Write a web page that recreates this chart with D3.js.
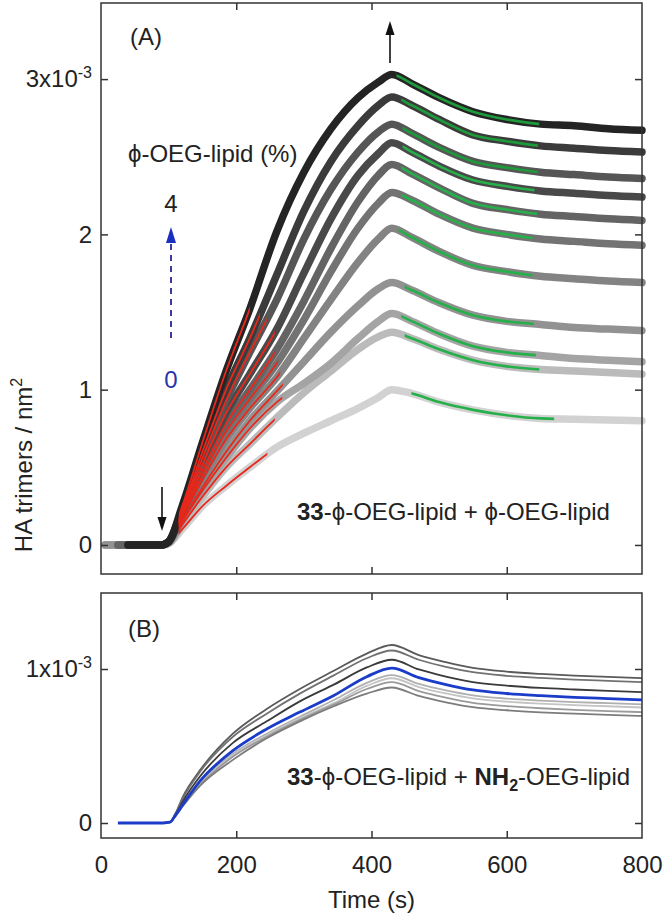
<!DOCTYPE html>
<html><head><meta charset="utf-8">
<script src="https://cdn.jsdelivr.net/npm/d3@7"></script>
<style>body{margin:0;background:#fff}</style>
</head><body>
<script>
// ---------- DATA (values in units of 1e-3 HA trimers / nm^2) ----------
const xTicks = [0, 200, 400, 600, 800];
const yTicksA = [0, 1, 2, 3];
const yTicksB = [0, 1];

// Panel A: 11 curves, 4% (top) ... 0% (bottom)
const startA = [40, 40, 40, 40, 25, 25, 25, 6, 6, 6, 6];
const tBaseA = [50, 90];
const tRiseA = [100, 120, 150, 185, 220, 260, 300, 340, 380, 410, 430];
const riseA = [
  [0.02, 0.25, 0.66, 1.12, 1.52, 2.02, 2.40, 2.68, 2.88, 2.98, 3.03],
  [0.02, 0.23, 0.60, 1.00, 1.33, 1.74, 2.15, 2.47, 2.70, 2.83, 2.885],
  [0.02, 0.22, 0.56, 0.93, 1.24, 1.58, 1.97, 2.29, 2.53, 2.66, 2.71],
  [0.02, 0.21, 0.52, 0.85, 1.10, 1.39, 1.75, 2.10, 2.38, 2.52, 2.59],
  [0.02, 0.20, 0.48, 0.78, 1.00, 1.26, 1.57, 1.91, 2.21, 2.38, 2.45],
  [0.02, 0.19, 0.45, 0.73, 0.94, 1.17, 1.45, 1.76, 2.04, 2.20, 2.27],
  [0.02, 0.18, 0.42, 0.68, 0.88, 1.08, 1.33, 1.58, 1.82, 1.97, 2.04],
  [0.02, 0.16, 0.37, 0.60, 0.80, 0.99, 1.18, 1.37, 1.54, 1.65, 1.69],
  [0.01, 0.15, 0.35, 0.56, 0.75, 0.92, 1.04, 1.17, 1.33, 1.44, 1.49],
  [0.01, 0.13, 0.31, 0.50, 0.65, 0.82, 0.98, 1.12, 1.26, 1.34, 1.37],
  [0.01, 0.10, 0.25, 0.38, 0.50, 0.63, 0.72, 0.80, 0.88, 0.95, 1.00]
];
const tDecayA = [460, 500, 550, 600, 650, 700, 750, 800];
const decayA = [
  [2.97, 2.88, 2.79, 2.74, 2.71, 2.70, 2.68, 2.67],
  [2.83, 2.74, 2.64, 2.60, 2.57, 2.555, 2.54, 2.53],
  [2.65, 2.56, 2.47, 2.43, 2.40, 2.385, 2.37, 2.36],
  [2.53, 2.44, 2.35, 2.31, 2.28, 2.265, 2.25, 2.24],
  [2.39, 2.30, 2.20, 2.16, 2.13, 2.115, 2.10, 2.09],
  [2.22, 2.13, 2.04, 2.00, 1.97, 1.955, 1.94, 1.93],
  [1.98, 1.89, 1.80, 1.76, 1.73, 1.715, 1.70, 1.69],
  [1.64, 1.56, 1.48, 1.44, 1.42, 1.40, 1.39, 1.38],
  [1.44, 1.36, 1.28, 1.24, 1.22, 1.20, 1.19, 1.18],
  [1.33, 1.26, 1.19, 1.15, 1.13, 1.12, 1.11, 1.10],
  [0.975, 0.92, 0.87, 0.835, 0.815, 0.81, 0.805, 0.80]
];
const grayA = ['#242424','#3b3b3b','#565656','#494949','#646464','#737373',
               '#838383','#929292','#a4a4a4','#bbbbbb','#d2d2d2'];
// fits
const redStart = [115,115,115,115,115,115,115,115,115,115,115];
const redEnd   = [220,235,245,257,257,262,265,269,268,257,246];
const greenStart = [437,444,446,446,444,444,440,449,444,449,459];
const greenEnd   = [648,646,646,641,645,638,638,640,643,648,670];

// Panel B: 8 curves (7 gray + blue)
const startB = [32, 32, 32, 25, 32, 32, 32, 32];
const tBaseB = [60, 92];
const tRiseB = [102, 110, 121, 146, 195, 245, 294, 345, 393, 430];
const riseB = [
  [0.005, 0.06, 0.17, 0.34, 0.58, 0.74, 0.87, 0.99, 1.10, 1.156],
  [0.005, 0.06, 0.16, 0.33, 0.56, 0.71, 0.84, 0.96, 1.07, 1.12],
  [0.005, 0.05, 0.14, 0.30, 0.52, 0.66, 0.79, 0.90, 1.01, 1.06],
  [0.005, 0.05, 0.12, 0.27, 0.47, 0.61, 0.72, 0.83, 0.95, 1.006],
  [0.005, 0.05, 0.12, 0.26, 0.45, 0.58, 0.69, 0.80, 0.91, 0.96],
  [0.005, 0.045, 0.11, 0.25, 0.44, 0.57, 0.68, 0.78, 0.89, 0.94],
  [0.005, 0.045, 0.11, 0.245, 0.43, 0.56, 0.67, 0.77, 0.87, 0.915],
  [0.005, 0.045, 0.11, 0.24, 0.41, 0.55, 0.66, 0.76, 0.84, 0.88]
];
const tDecayB = [470, 510, 550, 600, 650, 700, 750, 800];
const decayB = [
  [1.09, 1.044, 1.007, 0.983, 0.968, 0.957, 0.949, 0.94],
  [1.06, 1.013, 0.979, 0.956, 0.942, 0.931, 0.923, 0.915],
  [0.997, 0.951, 0.915, 0.892, 0.877, 0.867, 0.858, 0.85],
  [0.944, 0.899, 0.864, 0.841, 0.827, 0.816, 0.808, 0.80],
  [0.903, 0.861, 0.829, 0.808, 0.795, 0.785, 0.778, 0.77],
  [0.883, 0.841, 0.809, 0.788, 0.775, 0.765, 0.758, 0.75],
  [0.857, 0.814, 0.78, 0.759, 0.745, 0.735, 0.727, 0.72],
  [0.825, 0.784, 0.752, 0.732, 0.719, 0.71, 0.702, 0.695]
];
const colorB = ['#5a5a5a','#727272','#3a3a3a','#1a3cc8','#b0b0b0','#c4c4c4','#9a9a9a','#7c7c7c'];
const blueIndexB = 3;

// ---------- CHART ----------
const W = 666, H = 916;
const FONT = "'Liberation Sans', Arial, sans-serif";
const svg = d3.select('body').append('svg')
  .attr('width', W).attr('height', H)
  .style('font-family', FONT);

const L = 101, R = 642;
const topA = 3, botA = 574, topB = 593, botB = 838;
const x = d3.scaleLinear([0, 800], [L, R]);
const yA = d3.scaleLinear([-0.187, 3.49], [botA, topA]);
const yB = d3.scaleLinear([-0.0974, 1.4935], [botB, topB]);

function buildSeries(start, tBase, tRise, rise, tDecay, decay) {
  const pts = [[start, 0]];
  tBase.forEach(t => pts.push([t, 0]));
  tRise.forEach((t, j) => pts.push([t, rise[j]]));
  tDecay.forEach((t, j) => pts.push([t, decay[j]]));
  return pts;
}
const seriesA = riseA.map((r, i) => buildSeries(startA[i], tBaseA, tRiseA, r, tDecayA, decayA[i]));
const seriesB = riseB.map((r, i) => buildSeries(startB[i], tBaseB, tRiseB, r, tDecayB, decayB[i]));

const lineA = d3.line().x(d => x(d[0])).y(d => yA(d[1])).curve(d3.curveMonotoneX);
const lineB = d3.line().x(d => x(d[0])).y(d => yB(d[1])).curve(d3.curveMonotoneX);

const defs = svg.append('defs');

// Panel A curves (lightest first)
const gA = svg.append('g');
for (let i = seriesA.length - 1; i >= 0; i--) {
  gA.append('path').attr('d', lineA(seriesA[i]))
    .attr('fill', 'none').attr('stroke', grayA[i])
    .attr('stroke-width', 7.5).attr('stroke-linejoin', 'round').attr('stroke-linecap', 'round');
}
// fits, clipped to time ranges
function fit(i, t0, t1, color, w, id) {
  defs.append('clipPath').attr('id', id).append('rect')
    .attr('x', x(t0)).attr('y', topA).attr('width', x(t1) - x(t0)).attr('height', botA - topA);
  gA.append('path').attr('d', lineA(seriesA[i]))
    .attr('fill', 'none').attr('stroke', color).attr('stroke-width', w)
    .attr('clip-path', `url(#${id})`);
}
for (let i = seriesA.length - 1; i >= 0; i--) fit(i, redStart[i], redEnd[i], '#e8281c', 1.8, 'r' + i);
for (let i = 0; i < seriesA.length; i++) fit(i, greenStart[i], greenEnd[i], i < 3 ? '#1d9a3a' : '#26b04a', 2.6, 'g' + i);

// Panel B curves
const gB = svg.append('g');
seriesB.forEach((s, i) => {
  if (i === blueIndexB) return;
  gB.append('path').attr('d', lineB(s)).attr('fill', 'none')
    .attr('stroke', colorB[i]).attr('stroke-width', 1.8);
});
gB.append('path').attr('d', lineB(seriesB[blueIndexB])).attr('fill', 'none')
  .attr('stroke', colorB[blueIndexB]).attr('stroke-width', 2.8);

// Frames
[[topA, botA], [topB, botB]].forEach(([t, b]) => {
  svg.append('rect').attr('x', L).attr('y', t).attr('width', R - L).attr('height', b - t)
    .attr('fill', 'none').attr('stroke', '#333').attr('stroke-width', 1.5);
});

// Axes
function styleAxis(g) {
  g.select('.domain').remove();
  g.selectAll('line').attr('stroke', '#333').attr('stroke-width', 1.5);
  g.selectAll('text').attr('font-size', 24).attr('font-family', FONT).attr('fill', '#222');
}
const ticksX = [200, 400, 600];
// Panel A
svg.append('g').attr('transform', `translate(0,${botA})`)
  .call(d3.axisBottom(x).tickValues(ticksX).tickSizeInner(-7).tickSizeOuter(0).tickFormat('')).call(styleAxis);
svg.append('g').attr('transform', `translate(0,${topA})`)
  .call(d3.axisTop(x).tickValues(ticksX).tickSizeInner(-7).tickSizeOuter(0).tickFormat('')).call(styleAxis);
svg.append('g').attr('transform', `translate(${R},0)`)
  .call(d3.axisRight(yA).tickValues(yTicksA).tickSizeInner(-7).tickSizeOuter(0).tickFormat('')).call(styleAxis);
const axA = svg.append('g').attr('transform', `translate(${L},0)`)
  .call(d3.axisLeft(yA).tickValues(yTicksA).tickSizeInner(-7).tickSizeOuter(0).tickPadding(9).tickFormat(d => d))
  .call(styleAxis);
// Panel B
svg.append('g').attr('transform', `translate(0,${botB})`)
  .call(d3.axisBottom(x).tickValues(xTicks).tickSizeInner(-7).tickSizeOuter(0).tickPadding(18)
    .tickFormat(d => d)).call(styleAxis)
  .call(g => g.selectAll('.tick').filter(d => d === 0 || d === 800).select('line').remove());
svg.append('g').attr('transform', `translate(0,${topB})`)
  .call(d3.axisTop(x).tickValues(ticksX).tickSizeInner(-7).tickSizeOuter(0).tickFormat('')).call(styleAxis);
svg.append('g').attr('transform', `translate(${R},0)`)
  .call(d3.axisRight(yB).tickValues(yTicksB).tickSizeInner(-7).tickSizeOuter(0).tickFormat('')).call(styleAxis);
const axB = svg.append('g').attr('transform', `translate(${L},0)`)
  .call(d3.axisLeft(yB).tickValues(yTicksB).tickSizeInner(-7).tickSizeOuter(0).tickPadding(9).tickFormat(d => d))
  .call(styleAxis);

function sciLabel(axisG, val) {
  axisG.selectAll('.tick').filter(d => d === val).select('text').each(function () {
    const t = d3.select(this); t.text(null);
    t.append('tspan').text(val + 'x10');
    t.append('tspan').attr('font-size', 16).attr('dy', '-0.55em').text('-3');
  });
}
sciLabel(axA, 3);
sciLabel(axB, 1);
axA.selectAll('.tick').filter(d => d === 3).select('text').attr('x', -9);
axB.selectAll('.tick').filter(d => d === 1).select('text').attr('x', -9);

// Axis titles
svg.append('text').attr('transform', 'translate(32,465) rotate(-90)')
  .attr('text-anchor', 'middle').attr('font-size', 24).attr('fill', '#222')
  .call(t => {
    t.append('tspan').text('HA trimers / nm');
    t.append('tspan').attr('font-size', 16).attr('dy', -10).text('2');
  });
svg.append('text').attr('x', (L + R) / 2).attr('y', 908).attr('text-anchor', 'middle')
  .attr('font-size', 24).attr('fill', '#222').text('Time (s)');

// Panel labels and annotations
svg.append('text').attr('x', 130).attr('y', 45).attr('font-size', 24).attr('fill', '#222').text('(A)');
svg.append('text').attr('x', 128).attr('y', 637).attr('font-size', 24).attr('fill', '#222').text('(B)');
svg.append('text').attr('x', 128).attr('y', 162).attr('font-size', 24).attr('fill', '#222').text('ϕ-OEG-lipid (%)');
svg.append('text').attr('x', 171).attr('y', 212).attr('text-anchor', 'middle').attr('font-size', 24).attr('fill', '#222').text('4');
svg.append('text').attr('x', 171).attr('y', 388).attr('text-anchor', 'middle').attr('font-size', 24).attr('fill', '#2a35a8').text('0');
// blue dashed arrow
svg.append('line').attr('x1', 171).attr('x2', 171).attr('y1', 338).attr('y2', 242)
  .attr('stroke', '#3b3c9e').attr('stroke-width', 2).attr('stroke-dasharray', '6,5');
svg.append('path').attr('d', 'M171,227 L166,243 L176,243 Z').attr('fill', '#1a2fc0');
// black arrows
svg.append('line').attr('x1', 162).attr('x2', 162).attr('y1', 487).attr('y2', 520).attr('stroke', '#111').attr('stroke-width', 1.6);
svg.append('path').attr('d', 'M162,531 L157.5,517 L166.5,517 Z').attr('fill', '#111');
svg.append('line').attr('x1', 390).attr('x2', 390).attr('y1', 63).attr('y2', 32).attr('stroke', '#111').attr('stroke-width', 1.6);
svg.append('path').attr('d', 'M390,21 L385.5,35 L394.5,35 Z').attr('fill', '#111');

svg.append('text').attr('x', 297).attr('y', 520).attr('font-size', 24).attr('fill', '#222')
  .call(t => {
    t.append('tspan').attr('font-weight', 'bold').text('33');
    t.append('tspan').text('-ϕ-OEG-lipid + ϕ-OEG-lipid');
  });
svg.append('text').attr('x', 287).attr('y', 785).attr('font-size', 24).attr('fill', '#222')
  .call(t => {
    t.append('tspan').attr('font-weight', 'bold').text('33');
    t.append('tspan').text('-ϕ-OEG-lipid + ');
    t.append('tspan').attr('font-weight', 'bold').text('NH');
    t.append('tspan').attr('font-weight', 'bold').attr('font-size', 16).attr('dy', 6).text('2');
    t.append('tspan').attr('dy', -6).text('-OEG-lipid');
  });
</script>
</body></html>
